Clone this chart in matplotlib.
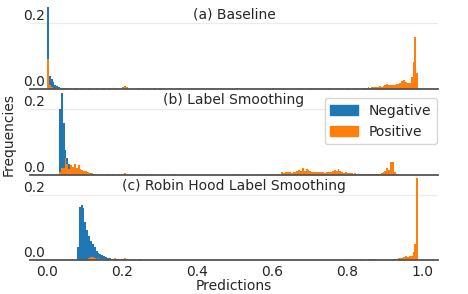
import numpy as np
import matplotlib
matplotlib.use("Agg")
import matplotlib.pyplot as plt
from matplotlib.patches import Patch

#	histogram bin width (prediction units)
BIN = 0.005

titles = ["(a) Baseline", "(b) Label Smoothing", "(c) Robin Hood Label Smoothing"]
legend_labels = ["Negative", "Positive"]
xtick_vals = [0.0, 0.2, 0.4, 0.6, 0.8, 1.0]
ytick_vals = [0.0, 0.2]

#	(a) Baseline
base_neg_start = 0.0
base_neg = [0.30, 0.040, 0.032, 0.020, 0.013, 0.009, 0.006, 0.004, 0.003,
	0.002, 0.002, 0.0015, 0.001, 0.001]
base_pos_start = 0.0
base_pos = [0.090, 0.012, 0.006, 0.004, 0.003, 0.002, 0.003, 0.002, 0.002, 0.003]
base_pos_tail_start = 0.840
base_pos_tail = [0.003, 0.004, 0.003, 0.005, 0.004, 0.006, 0.005, 0.007, 0.006,
	0.008, 0.007, 0.010, 0.011, 0.016, 0.012, 0.011, 0.013, 0.012, 0.015,
	0.014, 0.018, 0.024, 0.027, 0.020, 0.018, 0.017, 0.036, 0.082, 0.158, 0.048]
base_pos_sparse_x = [0.060, 0.075, 0.090, 0.110, 0.130, 0.150, 0.165, 0.180,
	0.200, 0.205, 0.210, 0.240, 0.255, 0.270, 0.285, 0.300, 0.350, 0.385,
	0.435, 0.470, 0.505, 0.550, 0.600, 0.640, 0.675, 0.700, 0.725, 0.750,
	0.775, 0.800, 0.820]
base_pos_sparse_h = [0.003, 0.002, 0.003, 0.002, 0.003, 0.002, 0.002, 0.003,
	0.007, 0.008, 0.006, 0.002, 0.003, 0.002, 0.002, 0.003, 0.004, 0.002,
	0.002, 0.001, 0.004, 0.001, 0.002, 0.001, 0.002, 0.002, 0.002, 0.002,
	0.003, 0.002, 0.002]

#	(b) Label Smoothing
ls_neg_start = 0.032
ls_neg = [0.200, 0.30, 0.158, 0.076, 0.050, 0.033, 0.015, 0.008, 0.004, 0.002]
ls_pos_start = 0.032
ls_pos = [0.010, 0.020, 0.022, 0.050, 0.033, 0.018, 0.030, 0.023, 0.033, 0.020,
	0.030, 0.017, 0.015, 0.012, 0.012, 0.008, 0.006, 0.005, 0.004]
ls_pos_tail_start = 0.625
ls_pos_tail = [0.008, 0.007, 0.009, 0.008, 0.009, 0.007, 0.008, 0.010, 0.012,
	0.015, 0.013, 0.021, 0.011, 0.018, 0.016, 0.012, 0.010, 0.009, 0.010,
	0.008, 0.009, 0.008, 0.010, 0.007, 0.009, 0.008, 0.010, 0.012, 0.015,
	0.011, 0.017, 0.012, 0.009, 0.007, 0.008, 0.006, 0.005, 0.005, 0.004,
	0.005, 0.004, 0.003, 0.004, 0.003, 0.002, 0.003, 0.002, 0.002, 0.003,
	0.002, 0.002, 0.002, 0.003, 0.006, 0.008, 0.012, 0.020, 0.016, 0.039,
	0.038, 0.010, 0.004]
ls_pos_sparse_x = [0.130, 0.145, 0.160, 0.175, 0.190, 0.205, 0.225, 0.245,
	0.260, 0.275, 0.340, 0.420, 0.505, 0.550, 0.575, 0.590, 0.605]
ls_pos_sparse_h = [0.004, 0.003, 0.003, 0.002, 0.003, 0.005, 0.002, 0.004,
	0.002, 0.002, 0.002, 0.001, 0.003, 0.001, 0.002, 0.002, 0.003]

#	(c) Robin Hood Label Smoothing
rh_neg_start = 0.080
rh_neg = [0.040, 0.162, 0.170, 0.158, 0.117, 0.092, 0.075, 0.060, 0.050, 0.040,
	0.030, 0.024, 0.020, 0.016, 0.013, 0.011, 0.009, 0.007, 0.006, 0.005,
	0.004, 0.003, 0.003, 0.002, 0.002, 0.002, 0.001, 0.001]
rh_pos_start = 0.100
rh_pos = [0.002, 0.004, 0.008, 0.012, 0.010, 0.008, 0.006, 0.007, 0.005, 0.006,
	0.004, 0.005, 0.004, 0.003, 0.006, 0.005, 0.008, 0.006, 0.005, 0.006,
	0.004, 0.007, 0.004, 0.003, 0.003, 0.002, 0.003, 0.002, 0.002, 0.003,
	0.001, 0.002, 0.002, 0.001, 0.002, 0.001, 0.002, 0.001, 0.002, 0.001]
rh_pos_tail_start = 0.800
rh_pos_tail = [0.003, 0.002, 0.003, 0.002, 0.001, 0.002, 0.001, 0.003, 0.002,
	0.001, 0.002, 0.003, 0.003, 0.004, 0.004, 0.004, 0.002, 0.001, 0.002,
	0.001, 0.002, 0.002, 0.002, 0.002, 0.004, 0.005, 0.005, 0.007, 0.008,
	0.008, 0.010, 0.013, 0.012, 0.014, 0.014, 0.026, 0.050, 0.30]
rh_pos_sparse_x = [0.320, 0.380, 0.450, 0.520, 0.580, 0.620, 0.660, 0.700, 0.740]
rh_pos_sparse_h = [0.001, 0.002, 0.001, 0.001, 0.002, 0.001, 0.001, 0.002, 0.001]

NEG_COLOR = "#1f77b4"
POS_COLOR = "#ff7f0e"
TEXT_COLOR = "0.15"


def draw_bins(ax, start, heights, color):
	#	consecutive bins from a left edge
	edges = start + BIN * np.arange(len(heights))
	ax.bar(edges, heights, width=BIN, align="edge", color=color, linewidth=0)


def draw_sparse(ax, xs, hs, color):
	ax.bar(xs, hs, width=BIN, align="edge", color=color, linewidth=0)


def style_axes(ax, title, show_xticks):
	ax.set_xlim(-0.045, 1.043)
	ax.set_ylim(0, 0.25)
	ax.set_yticks(ytick_vals)
	ax.set_yticklabels(["%.1f" % v for v in ytick_vals])
	ax.set_xticks(xtick_vals)
	if show_xticks:
		ax.set_xticklabels(["%.1f" % v for v in xtick_vals])
	else:
		ax.set_xticklabels([])
	for side in ["left", "top", "right"]:
		ax.spines[side].set_visible(False)
	ax.spines["bottom"].set_color("0.33")
	ax.spines["bottom"].set_linewidth(1.3)
	ax.set_axisbelow(True)
	ax.grid(axis="y", color="#ebebeb", linewidth=0.9)
	ax.tick_params(axis="x", length=0, pad=3.5, labelsize=10, labelcolor=TEXT_COLOR)
	ax.tick_params(axis="y", length=0, pad=-10.8, labelsize=10, labelcolor=TEXT_COLOR)
	for lab in ax.get_yticklabels():
		lab.set_verticalalignment("bottom")
	ax.text(0.5, 0.995, title, transform=ax.transAxes, ha="center", va="top",
		fontsize=10, color=TEXT_COLOR)


def main():
	fig = plt.figure(figsize=(4.68, 2.94), dpi=100)
	bottoms = [0.697, 0.405, 0.114]
	axes = [fig.add_axes([0.0641, b, 0.872, 0.280]) for b in bottoms]

	ax = axes[0]
	draw_bins(ax, base_neg_start, base_neg, NEG_COLOR)
	draw_bins(ax, base_pos_start, base_pos, POS_COLOR)
	draw_bins(ax, base_pos_tail_start, base_pos_tail, POS_COLOR)
	draw_sparse(ax, base_pos_sparse_x, base_pos_sparse_h, POS_COLOR)

	ax = axes[1]
	draw_bins(ax, ls_neg_start, ls_neg, NEG_COLOR)
	draw_bins(ax, ls_pos_start, ls_pos, POS_COLOR)
	draw_bins(ax, ls_pos_tail_start, ls_pos_tail, POS_COLOR)
	draw_sparse(ax, ls_pos_sparse_x, ls_pos_sparse_h, POS_COLOR)

	ax = axes[2]
	draw_bins(ax, rh_neg_start, rh_neg, NEG_COLOR)
	draw_bins(ax, rh_pos_start, rh_pos, POS_COLOR)
	draw_bins(ax, rh_pos_tail_start, rh_pos_tail, POS_COLOR)
	draw_sparse(ax, rh_pos_sparse_x, rh_pos_sparse_h, POS_COLOR)

	for i, ax in enumerate(axes):
		style_axes(ax, titles[i], i == 2)

	handles = [Patch(color=NEG_COLOR), Patch(color=POS_COLOR)]
	leg = axes[1].legend(handles, legend_labels, loc="upper right",
		bbox_to_anchor=(437 / 468, 1 - 98 / 294), bbox_transform=fig.transFigure,
		borderaxespad=0, fontsize=10)
	for t in leg.get_texts():
		t.set_color(TEXT_COLOR)

	fig.text(9 / 468, 1 - 134 / 294, "Frequencies", rotation=90, ha="center",
		va="center", fontsize=10, color=TEXT_COLOR)
	fig.text(234 / 468, 1 - 290 / 294, "Predictions", ha="center", va="baseline",
		fontsize=10, color=TEXT_COLOR)

	fig.savefig("out.png", dpi=100)


if __name__ == "__main__":
	main()
